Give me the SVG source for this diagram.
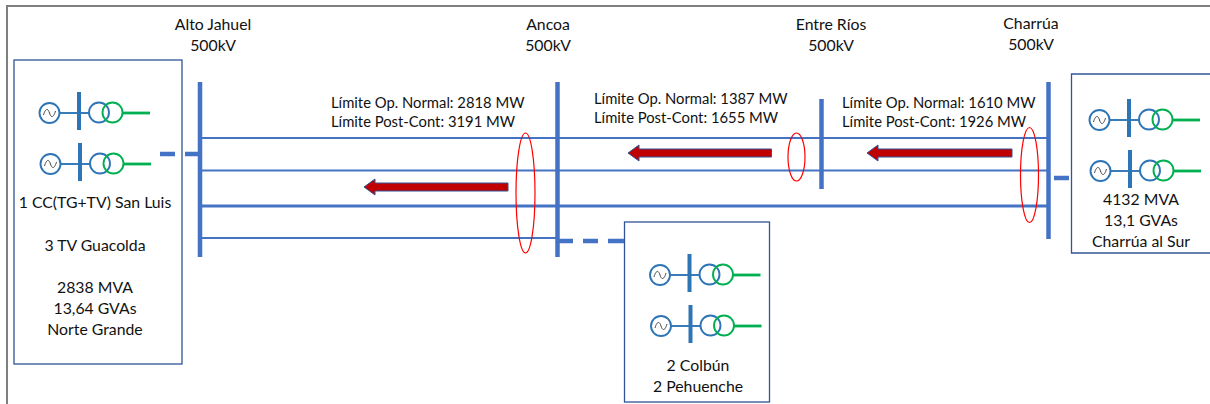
<svg xmlns="http://www.w3.org/2000/svg" width="1210" height="404" viewBox="0 0 1210 404">
<style>
text{font-family:"Lato","Carlito","Liberation Sans",sans-serif;font-size:15.800px;fill:#111}
.lim{font-size:14.800px}
.c{text-anchor:middle}
.box{fill:#fff;stroke:#2f5597;stroke-width:1.3}
.thin{stroke:#4472c4;stroke-width:2;fill:none}
.thick{stroke:#4472c4;stroke-width:3;fill:none}
.bus{stroke:#4472c4;stroke-width:4.500;fill:none}
.dash{stroke:#4472c4;stroke-width:4.500;fill:none}
.ell{fill:none;stroke:#f00;stroke-width:1.200}
.arr{fill:#c00000;stroke:#2f5597;stroke-width:1}
.b{stroke:#2e75b6;fill:none;stroke-width:1.900}
.g{stroke:#00b050;fill:none}
</style>
<defs>
<g id="unit">
<circle class="b" cx="49.500" cy="113" r="10"/>
<path d="M43.500 115c2-7 4.500-7 6-2s4 5 6-2" fill="none" stroke="#444" stroke-width="1"/>
<path class="b" d="M59.500 113H89"/>
<path d="M79 92v38" stroke="#2e75b6" stroke-width="4" fill="none"/>
<circle class="b" cx="99" cy="112.500" r="10"/>
<circle class="g" stroke-width="1.900" cx="112.500" cy="112.500" r="10"/>
<path class="g" stroke-width="2.800" d="M122.500 113H150"/>
</g>
</defs>
<path d="M7 404V6H1210" fill="none" stroke="#7f7f7f" stroke-width="2"/>
<g id="node-norte">
<rect class="box" x="14" y="60" width="168" height="304"/>
<use href="#unit"/><use href="#unit" x="1" y="51"/>
<text class="c" x="95" y="208">1 CC(TG+TV) San Luis</text>
<text class="c" x="95" y="251">3 TV Guacolda</text>
<text class="c" x="95" y="293">2838 MVA</text>
<text class="c" x="95" y="314">13,64 GVAs</text>
<text class="c" x="95" y="335">Norte Grande</text>
</g>
<g id="node-charrua-sur">
<path class="box" d="M1211 74H1071.500V253H1211"/>
<use href="#unit" x="1050" y="7"/><use href="#unit" x="1051" y="58"/>
<text class="c" x="1141" y="205">4132 MVA</text>
<text class="c" x="1141" y="226">13,1 GVAs</text>
<text class="c" x="1141" y="247">Charrúa al Sur</text>
</g>
<g id="node-colbun">
<rect class="box" x="624.500" y="222" width="145" height="180"/>
<use href="#unit" x="610.500" y="162"/><use href="#unit" x="611.500" y="213"/>
<text class="c" x="698" y="371">2 Colbún</text>
<text class="c" x="698" y="392">2 Pehuenche</text>
</g>
<g id="connectors">
<path class="thin" d="M200 138H1048M200 170.500H1048M200 238H557"/>
<path class="thick" d="M200 206H1048"/>
<path class="dash" d="M160 154h15M185 154h15M1054 178h15M557 241h16M583 241h15M608 241h16"/>
</g>
<g id="bus-alto-jahuel">
<path class="bus" d="M200 82V257"/>
<text class="c" x="213" y="30">Alto Jahuel</text><text class="c" x="213" y="51">500kV</text>
</g>
<g id="bus-ancoa">
<path class="bus" d="M557.500 82V257"/>
<text class="c" x="548" y="30">Ancoa</text><text class="c" x="548" y="51">500kV</text>
</g>
<g id="bus-entre-rios">
<path class="bus" d="M821.500 99V189"/>
<text class="c" x="831" y="30">Entre Ríos</text><text class="c" x="831" y="51">500kV</text>
</g>
<g id="bus-charrua">
<path class="bus" d="M1048.500 82V239"/>
<text class="c" x="1031" y="29">Charrúa</text><text class="c" x="1031" y="50">500kV</text>
</g>
<g id="limits">
<text class="lim" x="331" y="108">Límite Op. Normal: 2818 MW</text><text class="lim" x="331" y="127">Límite Post-Cont: 3191 MW</text>
<text class="lim" x="594" y="104">Límite Op. Normal: 1387 MW</text><text class="lim" x="594" y="123">Límite Post-Cont: 1655 MW</text>
<text class="lim" x="842" y="108">Límite Op. Normal: 1610 MW</text><text class="lim" x="842" y="127">Límite Post-Cont: 1926 MW</text>
</g>
<g id="flows">
<path class="arr" d="M364 187l11-8v4h133v8h-133v4z"/>
<path class="arr" d="M628 153l11-8v4h132.500v8h-132.500v4z"/>
<path class="arr" d="M867 153l11-8v4h134v8h-134v4z"/>
<ellipse class="ell" cx="525.500" cy="193" rx="9.500" ry="60"/>
<ellipse class="ell" cx="796.500" cy="157" rx="8.500" ry="24"/>
<ellipse class="ell" cx="1029.500" cy="175" rx="9" ry="47.500"/>
</g>
</svg>
